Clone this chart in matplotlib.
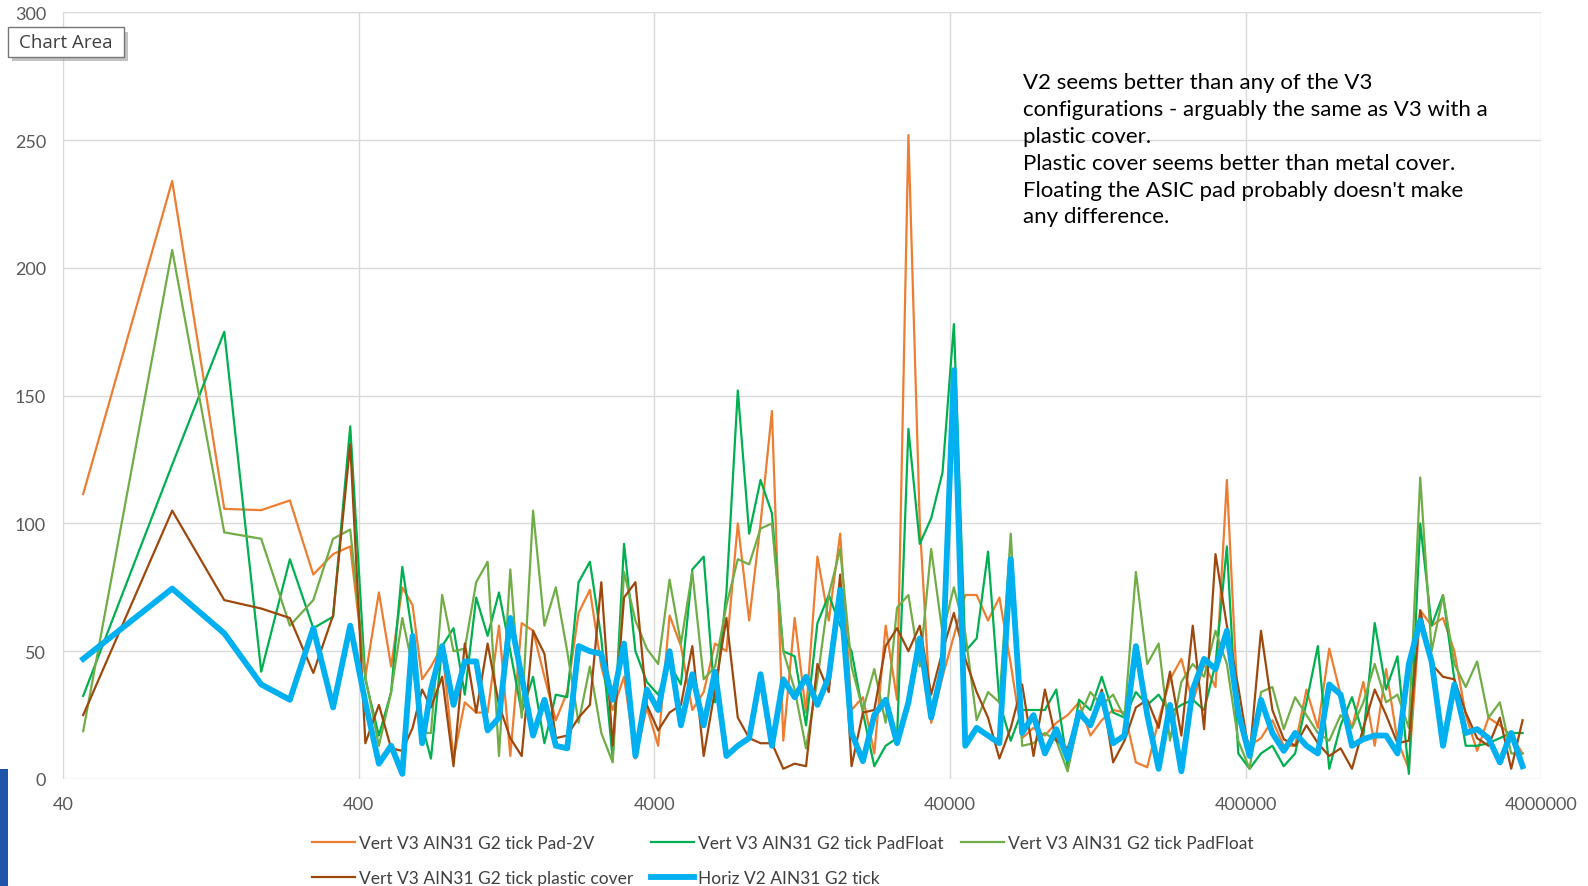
import matplotlib
matplotlib.use('Agg')
import matplotlib.pyplot as plt
from matplotlib.patches import Rectangle
from matplotlib.ticker import FixedLocator, FixedFormatter, NullLocator

plt.rcParams['font.family'] = ['Lato', 'DejaVu Sans']

# frequency points (Hz)
freq = [46.875, 93.75, 140.625, 187.5, 234.375, 281.25, 328.125, 375, 421.875, 468.75,
        515.625, 562.5, 609.375, 656.25, 703.125,
        767, 838, 915,
        1000, 1093, 1194, 1304, 1425, 1557, 1701, 1859, 2031, 2219, 2424, 2649, 2894,
        3162, 3455, 3775, 4125, 4507, 4924, 5380, 5878, 6422, 7017, 7667, 8377, 9152,
        10000, 10925, 11938, 13042, 14251, 15570, 17013, 18590, 20309, 22190, 24245,
        26490, 28943, 31623, 34551, 37751, 41246, 45066, 49239, 53798, 58780, 64223,
        70170, 76667, 83768, 91524,
        100000, 109250, 119380, 130420, 142510, 155700, 170130, 185900, 203090, 221900,
        242450, 264900, 289430, 316230, 345510, 377510, 412460, 450660, 492390, 537980,
        587800, 642230, 701700, 766670, 837680, 915240,
        1000000, 1092500, 1193800, 1304200, 1425100, 1557000, 1701300, 1859000, 2030900,
        2219000, 2424500, 2649000, 2894300, 3162300, 3455100]

pad_2v = [111.5, 234, 105.7, 105.2, 109, 80, 88, 91, 40, 73, 44, 75, 68, 39, 44,
          52, 8, 30, 26, 26, 60, 9, 61, 58, 40, 23, 34, 65,
          74, 44, 27, 40, 8, 28, 13, 64, 52, 27, 34, 53, 50, 100, 62, 100, 144, 15, 63, 26,
          87, 62, 96, 27, 32, 10, 60, 31, 252, 100, 22, 40, 56, 72, 72, 62, 71, 45, 16, 20, 17,
          22, 25, 30, 17, 23, 27, 26, 6.5, 4.6, 23, 39, 47, 30, 45, 36, 117, 25, 13, 16, 23, 13,
          13, 35, 20, 51, 33, 20, 38, 13, 43, 15, 4, 66, 60, 63, 50, 25, 11, 24, 21, 17, 10]

pad_float = [32.5, 123, 175, 42, 86, 59, 63.5, 138, 39, 17, 34, 83, 56, 21, 8,
             52, 59, 33, 71, 56, 73, 50, 26, 40, 14, 33, 32, 77,
             85, 55, 8, 92, 50, 38, 33, 45, 37, 82, 87, 30, 73, 152, 96, 117, 104, 50, 48, 21,
             61, 72, 60, 50, 26, 5, 13, 16, 137, 92, 102, 120, 178, 50, 55, 89, 30, 15, 27, 27, 27,
             35, 5, 31, 27, 40, 26, 24, 34, 29, 33, 26, 29, 31, 27, 45, 91, 10, 4, 10, 13, 5,
             10, 30, 52, 4, 21, 32, 17, 61, 35, 48, 2, 100, 60, 72, 39, 13, 13, 14, 16, 18, 18]

pad_float_b = [18.7, 207, 96.5, 94, 60, 70, 94, 97.6, 40, 13, 34, 63, 44, 18, 18,
               72, 50, 51, 77, 85, 9, 82, 24, 105, 60, 75, 50, 22,
               44, 18, 6.5, 81, 62, 51, 45, 78, 53, 81, 39, 44, 68, 86, 84, 98, 100, 50, 35, 12,
               39, 72, 90, 44, 27, 43, 22, 67, 72, 44, 90, 57, 75, 57, 23, 34, 30, 96, 13, 14, 18,
               15, 3, 24, 34, 29, 33, 24, 81, 45, 53, 15, 38, 45, 40, 58, 45, 15, 4, 34, 36, 19.5,
               32, 25, 18, 15, 25, 20, 30, 45, 30, 33, 20, 118, 50, 72, 45, 36, 46, 24, 30, 10, 10]

plastic = [25, 105, 70, 66.7, 63, 41.5, 64, 131, 14, 29, 12, 11, 20, 35, 28,
           40, 5, 53, 26, 53, 29, 16, 9, 58, 49, 16, 17, 24,
           29, 77, 13, 71, 77, 29, 19, 26, 29, 52, 9, 35, 63, 24, 16, 14, 14, 4, 6, 5,
           45, 34, 80, 5, 26, 27, 52, 59, 50, 60, 33, 50, 65, 47, 34, 24, 8, 20, 37, 9, 35,
           15, 12, 25, 21, 35, 6.5, 15, 28, 31, 20, 42, 17, 60, 19.5, 88, 60, 36, 9, 58, 27, 15.6,
           13, 21, 14, 9, 12, 4, 20, 35, 25, 14, 15, 66, 45, 40, 39, 26, 16, 13, 24, 4, 23]

horiz_v2 = [47, 74.5, 57, 37, 31, 59, 28, 60, 30, 6, 13, 2, 56, 14, 35,
            52, 29, 46, 46, 19, 24, 63, 40, 17, 31, 13, 12, 52,
            50, 49, 31, 53, 9, 35, 27, 50, 21, 41, 21, 42, 9, 13, 16, 41, 13, 39, 32, 40,
            29, 40, 74, 18, 7, 25, 31, 14, 30, 55, 24, 44, 160, 13, 20, 17, 14, 86, 18, 25, 10,
            19.5, 8, 26, 21, 33, 14, 17, 52, 25, 4, 29, 3, 35, 47, 43, 58, 26, 9, 31, 18, 11,
            18, 13, 10, 37, 33, 13, 15.6, 17, 17, 10, 45, 62, 46, 13, 37, 18, 19.5, 16, 6.5, 18, 5]

series = [
    ('Vert V3 AIN31 G2 tick Pad-2V', pad_2v, '#ED7D31', 1.6),
    ('Vert V3 AIN31 G2 tick PadFloat', pad_float, '#00B050', 1.6),
    ('Vert V3 AIN31 G2 tick PadFloat', pad_float_b, '#70AD47', 1.6),
    ('Vert V3 AIN31 G2 tick plastic cover', plastic, '#9E480E', 1.6),
    ('Horiz V2 AIN31 G2 tick', horiz_v2, '#00B0F0', 4.2),
]

xticks = [40, 400, 4000, 40000, 400000, 4000000]
yticks = [0, 50, 100, 150, 200, 250, 300]

W, H = 1588, 887
fig = plt.figure(figsize=(W / 100, H / 100), dpi=100)
ax = fig.add_axes([62.8 / W, 1 - 780 / H, (1541.4 - 62.8) / W, (780 - 13.3) / H])

handles = []
for label, vals, color, lw in series:
    h, = ax.plot(freq, vals, color=color, lw=lw, label=label, solid_joinstyle='round')
    handles.append(h)

ax.set_xscale('log')
ax.set_xlim(40, 4000000)
ax.set_ylim(0, 300)
ax.xaxis.set_major_locator(FixedLocator(xticks))
ax.xaxis.set_major_formatter(FixedFormatter([str(t) for t in xticks]))
ax.xaxis.set_minor_locator(NullLocator())
ax.set_yticks(yticks)
ax.grid(True, color='#D9D9D9', lw=1.0)
ax.set_axisbelow(True)
for s in ax.spines.values():
    s.set_visible(False)
ax.tick_params(length=0, labelcolor='#595959', labelsize=13)
ax.tick_params(axis='y', pad=12)
ax.tick_params(axis='x', pad=12)

# legend laid out row by row like the original
order = [0, 3, 1, 4, 2]
leg = fig.legend([handles[i] for i in order], [series[i][0] for i in order],
                 ncol=3, loc='upper left', bbox_to_anchor=(312 / W, 1 - 836 / H),
                 frameon=False, fontsize=12.5, handlelength=2.45, handletextpad=0.23,
                 columnspacing=1.05, labelspacing=1.12, borderaxespad=0, borderpad=0)
for t in leg.get_texts():
    t.set_color('#404040')

note = ("V2 seems better than any of the V3\n"
        "configurations - arguably the same as V3 with a\n"
        "plastic cover.\n"
        "Plastic cover seems better than metal cover.\n"
        "Floating the ASIC pad probably doesn't make\n"
        "any difference.")
fig.text(1023 / W, 1 - 73 / H, note, ha='left', va='top', fontsize=16,
         linespacing=1.43, color='#000000')

# "Chart Area" tooltip
fig.patches.append(Rectangle((12 / W, 1 - 62 / H), 115.5 / W, 29.3 / H,
                             transform=fig.transFigure, facecolor='#9A9A9A',
                             edgecolor='none', alpha=0.6, zorder=5))
fig.patches.append(Rectangle((8 / W, 1 - 57.7 / H), 115.5 / W, 29.3 / H,
                             transform=fig.transFigure, facecolor='white',
                             edgecolor='#767676', lw=1.0, zorder=6))
fig.text(65.8 / W, 1 - 43 / H, 'Chart Area', ha='center', va='center',
         fontsize=13.5, color='#404040', family=['Open Sans', 'DejaVu Sans'], zorder=7)

# blue strip at lower left edge
fig.patches.append(Rectangle((0, 0), 8 / W, 117 / H, transform=fig.transFigure,
                             facecolor='#1F55A8', edgecolor='none', zorder=5))

fig.savefig('out.png', dpi=100)
